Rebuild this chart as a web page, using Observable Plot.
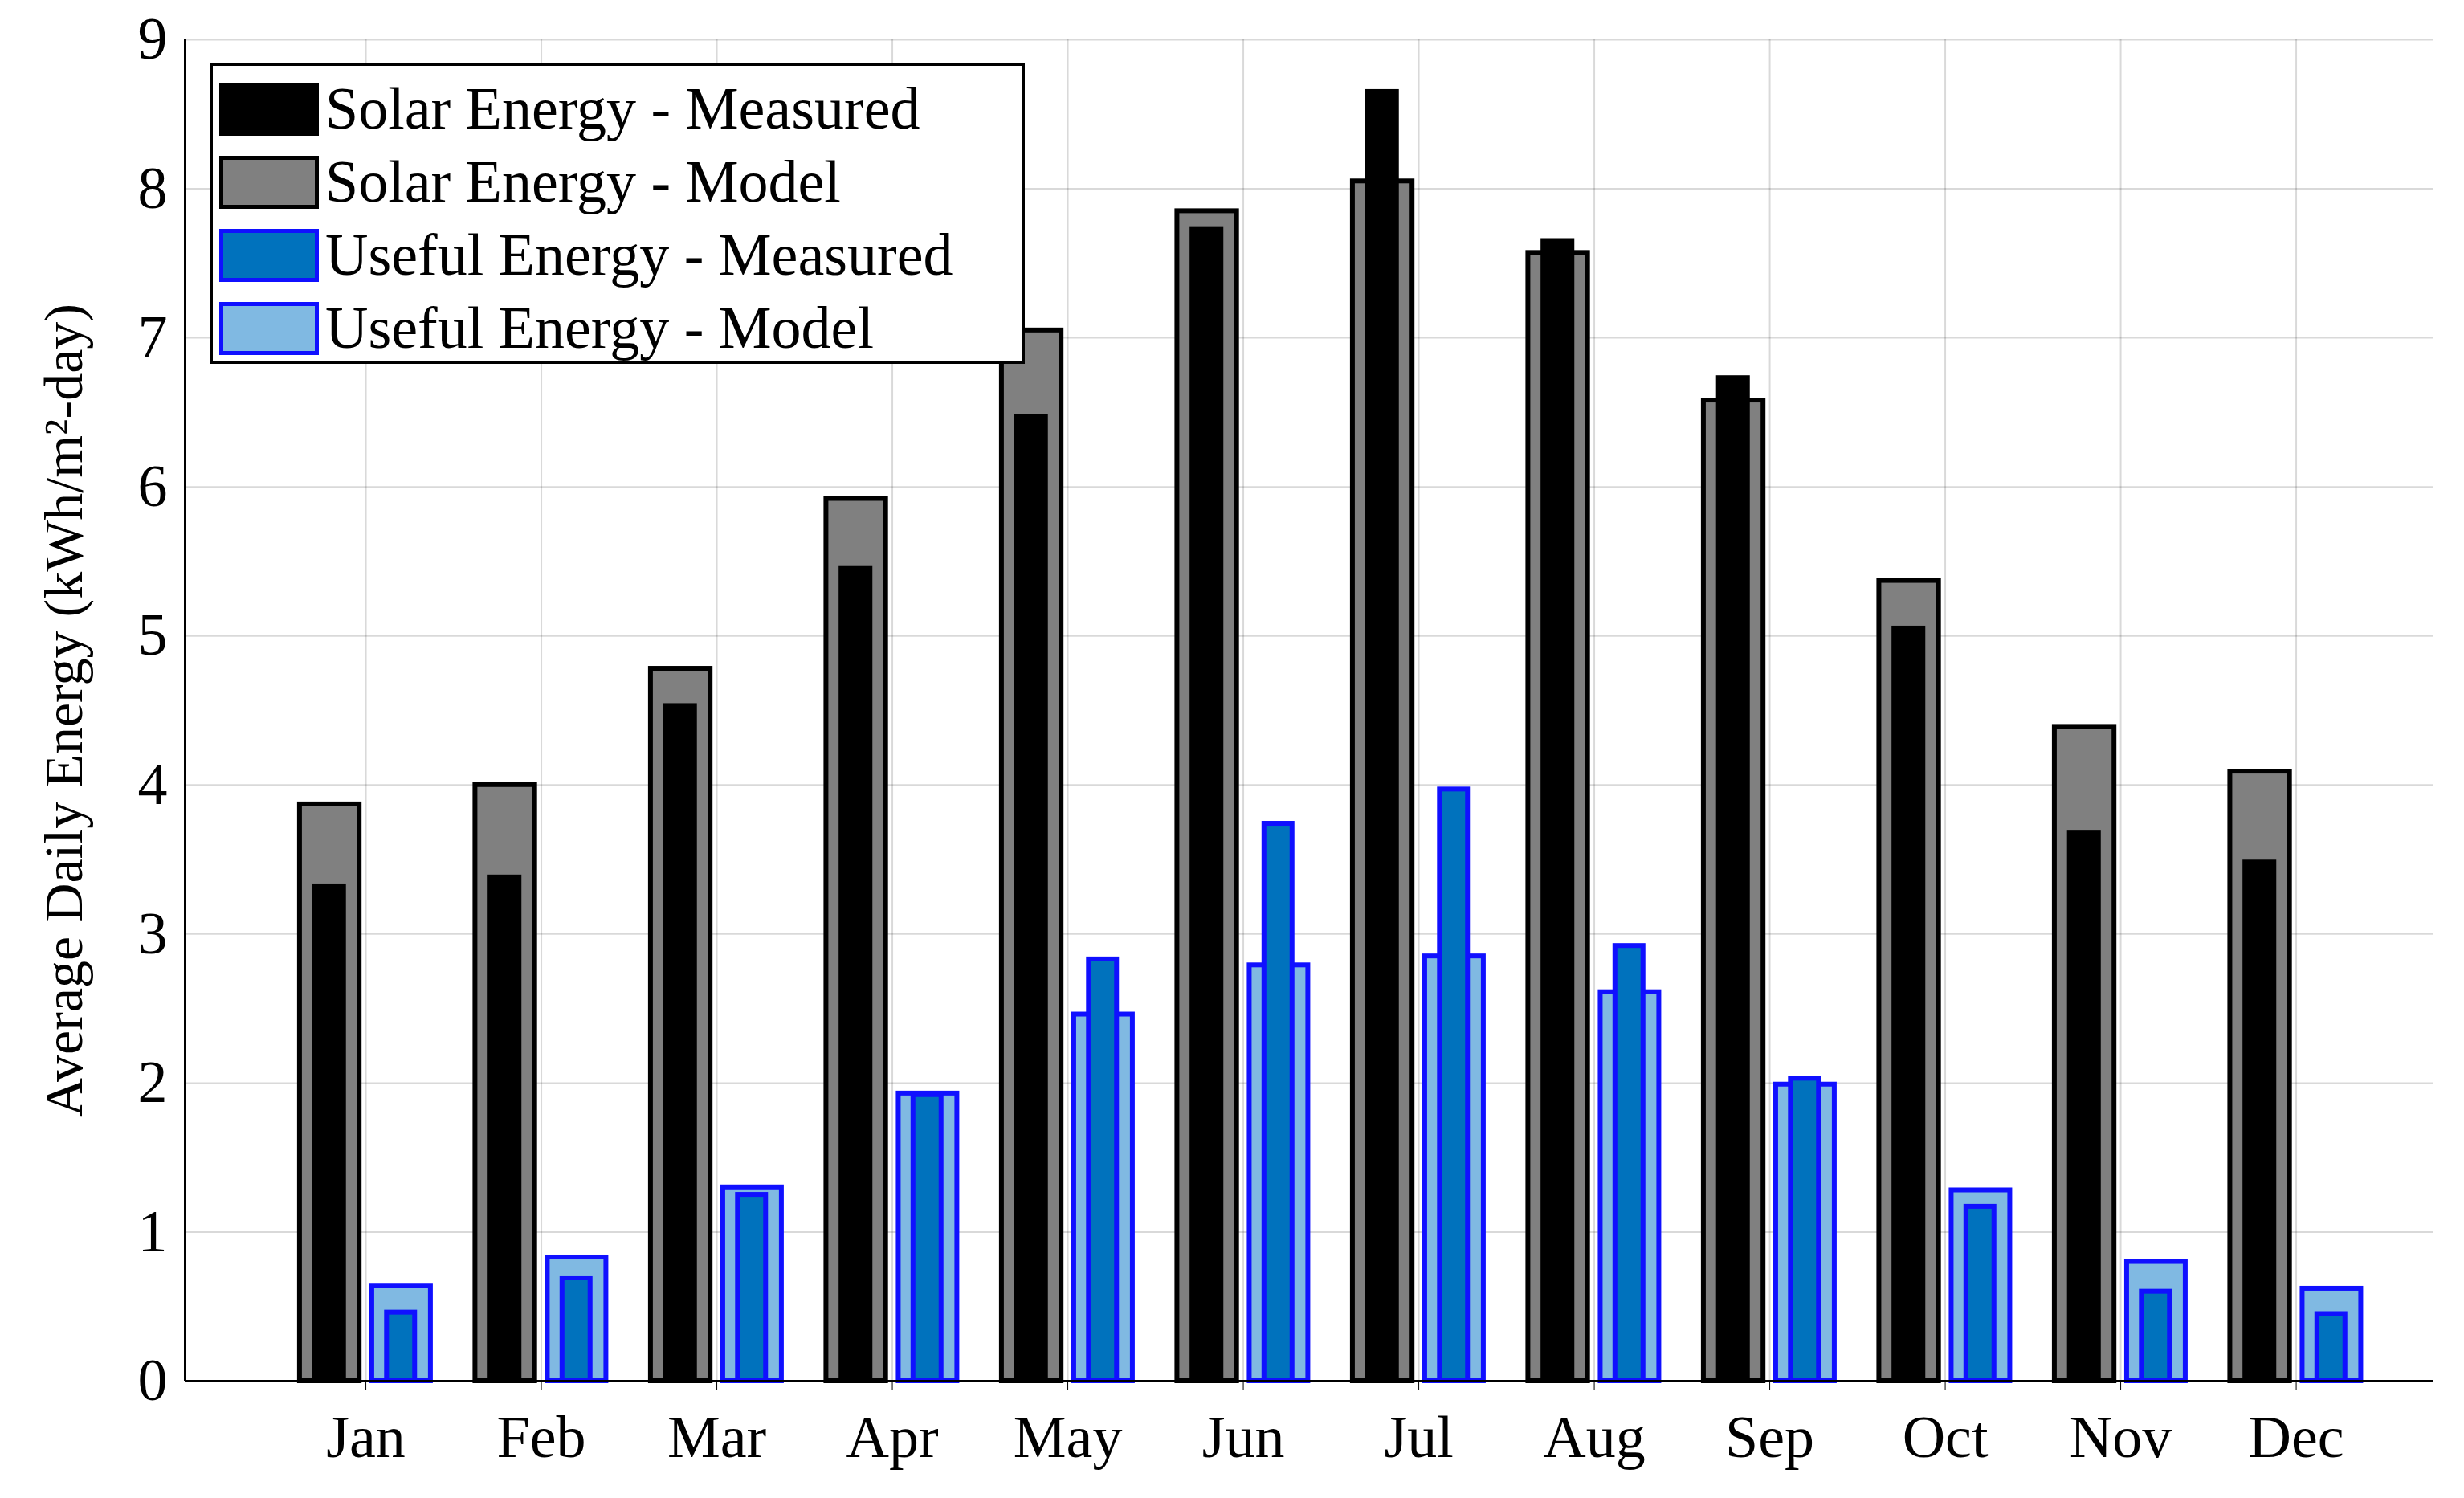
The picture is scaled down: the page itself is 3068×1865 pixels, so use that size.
<!DOCTYPE html>
<html><head><meta charset="utf-8">
<script src="https://cdn.jsdelivr.net/npm/d3@7"></script>
<script src="https://cdn.jsdelivr.net/npm/@observablehq/plot@0.6"></script>
<style>
body{margin:0;background:#fff;}
#wrap{position:relative;width:3068px;height:1865px;font-family:"Liberation Serif","DejaVu Serif",serif;}
#legend{position:absolute;left:262px;top:79px;width:1014px;height:374px;border:3px solid #000;background:#fff;box-sizing:border-box;padding:8px 0 0 8px;}
.row{display:flex;align-items:center;height:91px;font-size:74px;white-space:nowrap;}
.sw{width:124px;height:66px;box-sizing:border-box;margin-right:8px;flex:none;}
</style></head><body>
<div id="wrap"><div id="chart"></div>
<div id="legend">
<div class="row"><div class="sw" style="background:#000;border:5px solid #000"></div>Solar Energy - Measured</div>
<div class="row"><div class="sw" style="background:#808080;border:5px solid #000"></div>Solar Energy - Model</div>
<div class="row"><div class="sw" style="background:#0072bd;border:5px solid #1010ff"></div>Useful Energy - Measured</div>
<div class="row"><div class="sw" style="background:#80b9e2;border:5px solid #1010ff"></div>Useful Energy - Model</div>
</div></div>
<script>
const months=["Jan","Feb","Mar","Apr","May","Jun","Jul","Aug","Sep","Oct","Nov","Dec"];
const solarModel=[3.87,4.0,4.78,5.92,7.05,7.85,8.05,7.57,6.58,5.37,4.39,4.09];
const solarMeasured=[3.32,3.38,4.53,5.45,6.47,7.73,8.65,7.65,6.73,5.05,3.68,3.48];
const usefulModel=[0.64,0.83,1.3,1.93,2.46,2.79,2.85,2.61,1.99,1.28,0.8,0.62];
const usefulMeasured=[0.46,0.69,1.25,1.92,2.83,3.74,3.97,2.92,2.03,1.17,0.6,0.45];
const yTicks=[0,1,2,3,4,5,6,7,8,9];
const idx=months.map((m,i)=>i+1);
const mk=(vals,a,b,fill,stroke)=>Plot.rectY(idx.map((m,i)=>({x1:m+a,x2:m+b,y:vals[i]})),{x1:"x1",x2:"x2",y1:0,y2:"y",fill,stroke,strokeWidth:6});
const chart=Plot.plot({
  width:3068,height:1865,marginLeft:230,marginRight:39,marginTop:49,marginBottom:146,
  style:{fontFamily:"Liberation Serif, serif",fontSize:"74px",color:"#000"},
  x:{domain:[-0.03,12.78],ticks:idx,tickFormat:d=>months[d-1],label:null,tickSize:12,tickPadding:30},
  y:{domain:[0,9],ticks:yTicks,label:null,tickSize:0,tickPadding:22},
  marks:[
    Plot.gridY(yTicks,{stroke:"#000",strokeOpacity:0.15,strokeWidth:2}),
    Plot.gridX(idx,{stroke:"#000",strokeOpacity:0.15,strokeWidth:2}),
    mk(solarModel,-0.376,-0.036,"#808080","#000"),
    mk(solarMeasured,-0.29,-0.125,"#000","#000"),
    mk(usefulModel,0.036,0.37,"#80b9e2","#1010ff"),
    mk(usefulMeasured,0.12,0.28,"#0072bd","#1010ff"),
    Plot.ruleX([-0.03],{stroke:"#000",strokeWidth:3}),
    Plot.ruleY([0],{stroke:"#000",strokeWidth:3}),
    Plot.text(["Average Daily Energy (kWh/m²-day)"],{frameAnchor:"left",textAnchor:"middle",dx:-150,rotate:-90,fontSize:68})
  ]
});
document.getElementById("chart").appendChild(chart);
</script></body></html>
